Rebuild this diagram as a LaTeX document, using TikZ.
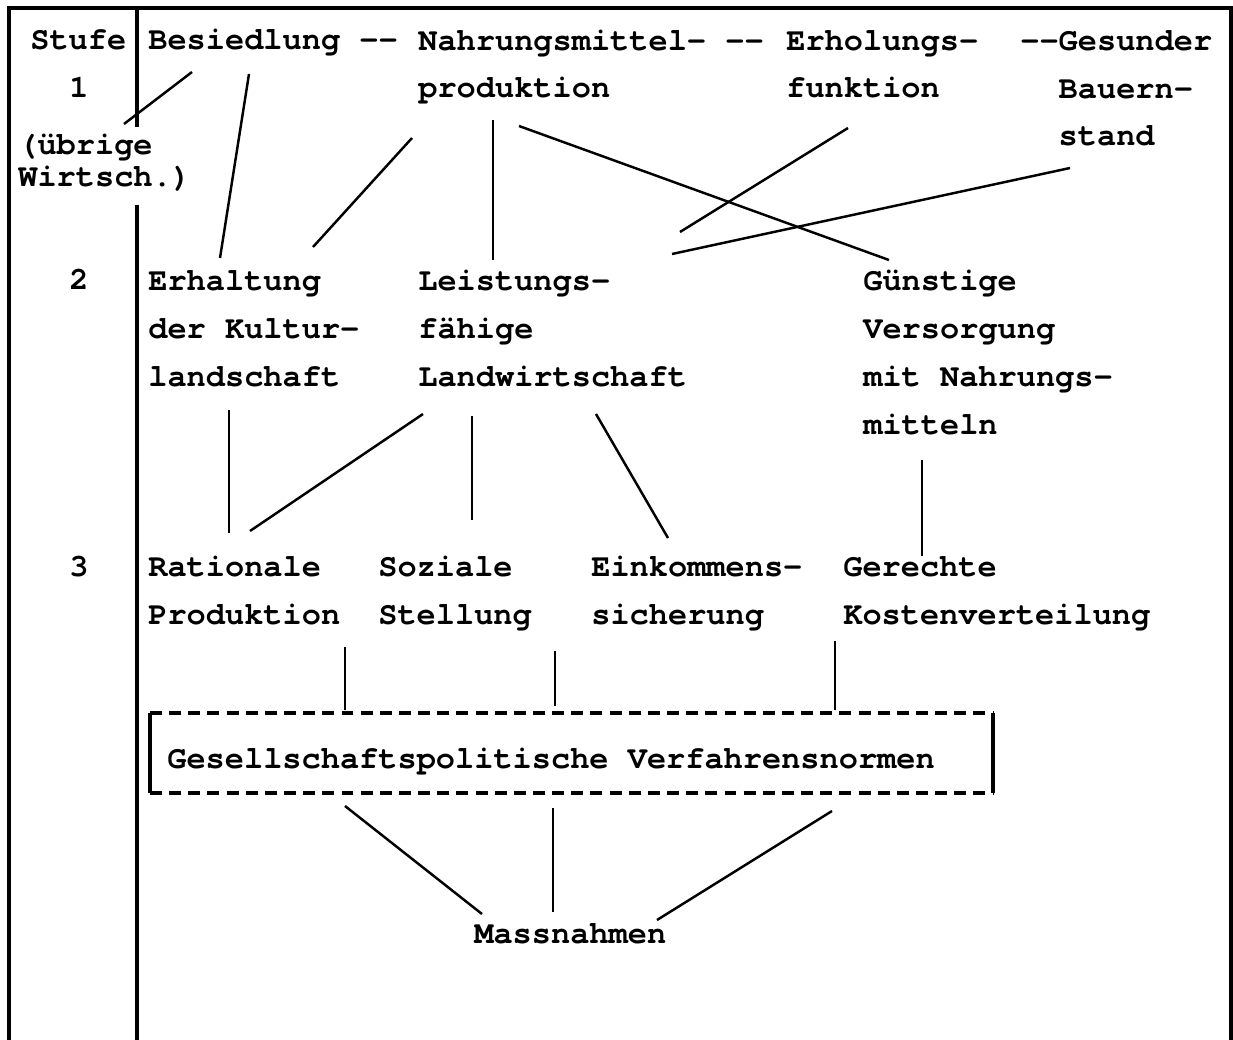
\documentclass[tikz,border=0pt]{standalone}
\usepackage{fontspec}
\setmonofont{TeX Gyre Cursor}

\tikzset{
  txt/.style={anchor=base west, inner sep=0pt, align=left,
    font=\ttfamily\bfseries\fontsize{18.2}{27.2}\selectfont},
  link/.style={line width=1.4pt},
  rahmen/.style={line width=2.2pt},
  dashbox/.style={line width=2.2pt, dash pattern=on 6.8pt off 4.1pt},
}

\begin{document}
\begin{tikzpicture}[x=0.02cm, y=-0.02cm]
	\useasboundingbox (0,0) rectangle (1233,1040);

	% Rahmen und Stufenspalte
	\draw[rahmen] (9,1040) -- (9,8) -- (1231,8) -- (1231,1040);
	\draw[rahmen] (137,8) -- (137,127);
	\draw[rahmen] (137,205) -- (137,1040);

	% mehrzeilige Knoten sitzen auf der Grundlinie ihrer letzten Zeile
	\node[txt] (stufe) at (30,50) {Stufe};
	\node[txt, anchor=base] (s1) at (79,98) {1};
	\node[txt, font=\ttfamily\bfseries\fontsize{18.2}{18.7}\selectfont] (uebrige) at (18,187) {(übrige\\Wirtsch.)};
	\node[txt, anchor=base] (s2) at (79,290) {2};
	\node[txt, anchor=base] (s3) at (79,576) {3};

	% Stufe 1
	\node[txt] (besied) at (148,50) {Besiedlung -{}-};
	\node[txt] (nahr) at (418,98) {Nahrungsmittel- -{}-\\produktion};
	\node[txt] (erhol) at (786,98) {Erholungs-\\funktion};
	\node[txt] (gesund) at (1020,146) {-{}-Gesunder\\\hphantom{--}Bauern-\\\hphantom{--}stand};

	% Stufe 2
	\node[txt] (erhalt) at (148,386) {Erhaltung\\der Kultur-\\landschaft};
	\node[txt] (leist) at (418,386) {Leistungs-\\fähige\\Landwirtschaft};
	\node[txt] (guenst) at (863,434) {Günstige\\Versorgung\\mit Nahrungs-\\mitteln};

	% Stufe 3
	\node[txt] (ration) at (148,624) {Rationale\\Produktion};
	\node[txt] (sozial) at (378,624) {Soziale\\Stellung};
	\node[txt] (einkom) at (591,624) {Einkommens-\\sicherung};
	\node[txt] (gerecht) at (843,624) {Gerechte\\Kostenverteilung};

	\node[txt] (normen) at (167,768) {Gesellschaftspolitische Verfahrensnormen};
	\node[txt] (massn) at (474,943) {Massnahmen};

	% Kasten
	\draw[rahmen] ([shift={(-17,-55)}]normen.base west) -- ([shift={(-17,25)}]normen.base west);
	\draw[rahmen] ([shift={(826,-55)}]normen.base west) -- ([shift={(826,25)}]normen.base west);
	\draw[dashbox] ([shift={(-17,-55)}]normen.base west) -- ([shift={(826,-55)}]normen.base west);
	\draw[dashbox] ([shift={(-17,25)}]normen.base west) -- ([shift={(826,25)}]normen.base west);

	% Verbindungen
	\draw[link] ([shift={(44,22)}]besied.base west) -- ([shift={(106,-63)}]uebrige.base west);
	\draw[link] ([shift={(101,24)}]besied.base west) -- ([shift={(72,-128)}]erhalt.base west);
	\draw[link] ([shift={(-6,40)}]nahr.base west) -- ([shift={(165,-139)}]erhalt.base west);
	\draw[link] ([shift={(75,22)}]nahr.base west) -- ([shift={(75,-126)}]leist.base west);
	\draw[link] ([shift={(101,28)}]nahr.base west) -- ([shift={(26,-174)}]guenst.base west);
	\draw[link] ([shift={(62,30)}]erhol.base west) -- ([shift={(262,-154)}]leist.base west);
	\draw[link] ([shift={(50,22)}]gesund.base west) -- ([shift={(254,-132)}]leist.base west);

	\draw[link] ([shift={(81,24)}]erhalt.base west) -- ([shift={(81,-91)}]ration.base west);
	\draw[link] ([shift={(5,28)}]leist.base west) -- ([shift={(102,-93)}]ration.base west);
	\draw[link] ([shift={(54,30)}]leist.base west) -- ([shift={(94,-104)}]sozial.base west);
	\draw[link] ([shift={(178,28)}]leist.base west) -- ([shift={(77,-86)}]einkom.base west);
	\draw[link] ([shift={(59,26)}]guenst.base west) -- ([shift={(79,-68)}]gerecht.base west);

	\draw[link] ([shift={(197,23)}]ration.base west) -- ([shift={(178,-58)}]normen.base west);
	\draw[link] ([shift={(177,27)}]sozial.base west) -- ([shift={(388,-62)}]normen.base west);
	\draw[link] ([shift={(-8,17)}]gerecht.base west) -- ([shift={(668,-58)}]normen.base west);

	\draw[link] ([shift={(178,38)}]normen.base west) -- ([shift={(8,-29)}]massn.base west);
	\draw[link] ([shift={(386,40)}]normen.base west) -- ([shift={(79,-31)}]massn.base west);
	\draw[link] ([shift={(665,43)}]normen.base west) -- ([shift={(183,-23)}]massn.base west);
\end{tikzpicture}
\end{document}
